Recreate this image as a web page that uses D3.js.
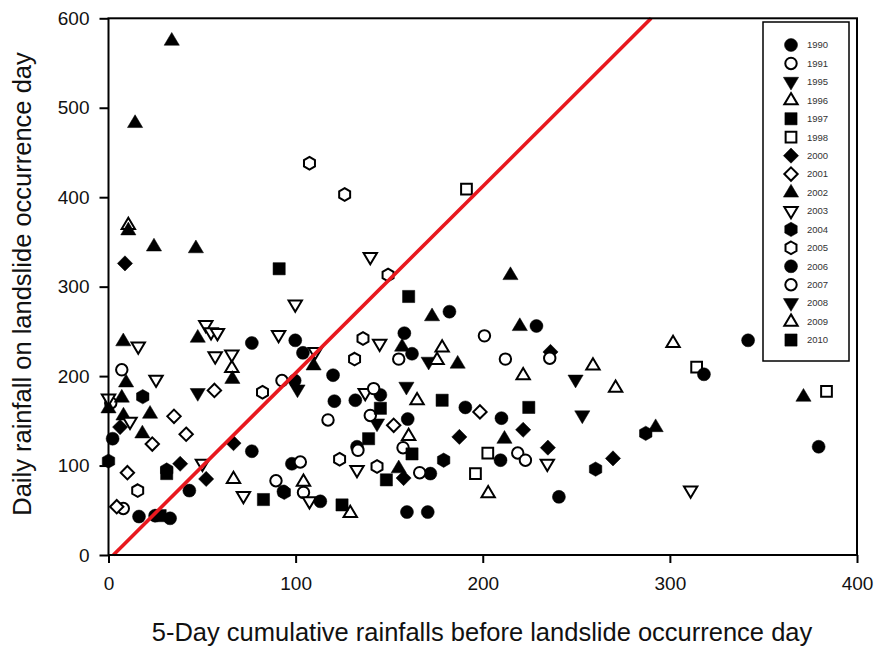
<!DOCTYPE html>
<html>
<head>
<meta charset="utf-8">
<script src="https://cdn.jsdelivr.net/npm/d3@7"></script>
<style>
  html, body { margin: 0; padding: 0; background: #fff; }
  svg { display: block; font-family: "Liberation Sans", Arial, sans-serif; }
</style>
</head>
<body>
<svg id="chart" width="878" height="646"></svg>
<script>
// ---------------- DATA ----------------
const years  = ["1990","1991","1995","1996","1997","1998","2000","2001","2002","2003","2004","2005","2006","2007","2008","2009","2010"];
const shapes = ["circle","circle","down","up","square","square","diamond","diamond","up","down","hexagon","hexagon","circle","circle","down","up","square"];
const filled = [true,false,true,false,true,false,true,false,true,false,true,false,true,false,true,false,true];

const xTicks = [0, 100, 200, 300, 400];
const yTicks = [0, 100, 200, 300, 400, 500, 600];

// [5-day cumulative rainfall, daily rainfall]
const r1990 = [[76.6,237],[99.8,240],[99.5,195],[2.2,130],[76.6,116],[43.2,72],[98,102],[16.3,43],[24.9,44],[32.9,41],[103.9,226],[120,201]];
const r1991 = [[7.1,207],[92.7,195],[1.2,170],[89.5,83],[102.5,104],[7.9,52],[104.2,70],[117.3,151]];
const r1995 = [[47.7,181],[101,185],[143.5,147]];
const r1996 = [[10.6,369],[65.9,209],[66.8,85],[104.2,82],[129.2,47],[160.4,133]];
const r1997 = [[91.2,320],[31.1,91],[82.8,62],[27.6,44],[139,130]];
const r1998 = [[191.3,409],[196.1,91],[202.7,114],[314.3,210],[383.7,183]];
const r2000 = [[8.8,326],[6.2,143],[66.8,125],[38.3,102],[52.2,85],[187.5,132],[157.7,86],[236.2,227],[221.6,140],[234.8,120],[269.6,108]];
const r2001 = [[56.6,184],[35,155],[41.5,135],[23.4,124],[10.1,92],[4.4,54],[198.5,160],[152.4,145]];
const r2002 = [[33.8,575],[14.2,483],[10.6,363],[24.3,345],[46.7,343],[7.9,239],[47.7,243],[66.2,197],[9.4,193],[0,164],[7.1,176],[22.2,158],[8,156],[18.1,136],[109.6,212],[156.9,233],[172.9,267],[186.6,214],[155.1,97],[214.8,313],[219.8,256],[211.6,130],[292.4,143],[371.4,177]];
const r2003 = [[15.9,233],[52,257],[54.8,249],[58.2,248],[90.9,246],[57,222],[65.9,224],[25.4,196],[0,175],[11.5,149],[50.2,102],[72.1,66],[99.8,280],[139.9,333],[144.9,236],[110.5,227],[137.2,181],[132.8,95],[107.4,60],[234.5,102],[311.1,72]];
const r2004 = [[18.3,177],[0,105],[31.1,95],[93.9,70],[179.1,106],[260.3,96],[287.1,136]];
const r2005 = [[107.4,438],[126.2,403],[149.4,313],[136,242],[131.5,219],[82.3,182],[15.6,72],[123.5,107],[143.5,99]];
const r2006 = [[158.1,248],[162.2,225],[182.2,272],[120.7,172],[131.9,173],[145.3,179],[190.7,165],[159.9,152],[132.8,121],[172,91],[93.5,71],[113.2,60],[159.5,48],[170.6,48],[228.7,256],[210,153],[209.5,106],[240.7,65],[341.8,240],[318.2,202],[379.5,121]];
const r2007 = [[155.1,219],[141.7,186],[139.9,156],[133.3,117],[157.4,120],[166.3,92],[200.9,245],[212.1,219],[235.8,220],[218.7,114],[222.8,106]];
const r2008 = [[171.1,216],[159.2,188],[249.6,196],[253.2,156]];
const r2009 = [[178.3,232],[175.6,218],[164.9,173],[221.6,201],[258.9,212],[271,187],[202.9,69],[301.7,237]];
const r2010 = [[160.4,289],[145.3,164],[178.3,173],[162.2,113],[148.5,84],[124.8,56],[224.6,165]];

// threshold line end points
const lineX = [2.6, 290];
const lineY = [0, 600];

const seriesData = [r1990,r1991,r1995,r1996,r1997,r1998,r2000,r2001,r2002,r2003,r2004,r2005,r2006,r2007,r2008,r2009,r2010];

// ---------------- DRAWING ----------------
const svg = d3.select("#chart");
const x = d3.scaleLinear().domain([0, 400]).range([108.5, 857]);
const y = d3.scaleLinear().domain([0, 600]).range([555, 18.3]);

function shapePath(type, open) {
  const k = open ? 0.88 : 1;
  const p = d3.path();
  if (type === "circle") {
    const r = 6.5 * k;
    p.arc(0, 0, r, 0, 2 * Math.PI);
  } else if (type === "square") {
    const h = 6.1 * k;
    p.rect(-h, -h, 2 * h, 2 * h);
  } else if (type === "diamond") {
    const h = 7.6 * k;
    p.moveTo(0, -h); p.lineTo(h, 0); p.lineTo(0, h); p.lineTo(-h, 0); p.closePath();
  } else if (type === "up") {
    p.moveTo(0, -8.2 * k); p.lineTo(7.6 * k, 4.6 * k); p.lineTo(-7.6 * k, 4.6 * k); p.closePath();
  } else if (type === "down") {
    p.moveTo(0, 8.2 * k); p.lineTo(7.6 * k, -4.6 * k); p.lineTo(-7.6 * k, -4.6 * k); p.closePath();
  } else if (type === "hexagon") {
    const r = 7.2 * k;
    for (let i = 0; i < 6; i++) {
      const a = -Math.PI / 2 + i * Math.PI / 3;
      const px = r * Math.cos(a), py = r * Math.sin(a);
      if (i === 0) p.moveTo(px, py); else p.lineTo(px, py);
    }
    p.closePath();
  }
  return p.toString();
}

// points
const gPts = svg.append("g");
seriesData.forEach((data, i) => {
  const open = !filled[i];
  gPts.append("g")
    .selectAll("path")
    .data(data)
    .join("path")
    .attr("d", shapePath(shapes[i], open))
    .attr("transform", d => `translate(${x(d[0])},${y(d[1])})`)
    .attr("fill", open ? "#fff" : "#000")
    .attr("stroke", "#000")
    .attr("stroke-width", open ? 2 : 0.5);
});

// red threshold line
svg.append("line")
  .attr("x1", x(lineX[0])).attr("y1", y(lineY[0]))
  .attr("x2", x(lineX[1])).attr("y2", y(lineY[1]))
  .attr("stroke", "#e8181e")
  .attr("stroke-width", 3.6)
  .attr("stroke-linecap", "butt");

// frame
svg.append("rect")
  .attr("x", x(0)).attr("y", y(600))
  .attr("width", x(400) - x(0)).attr("height", y(0) - y(600))
  .attr("fill", "none").attr("stroke", "#000").attr("stroke-width", 2);

// axes
const xAxis = svg.append("g")
  .attr("transform", `translate(0,${y(0)})`)
  .call(d3.axisBottom(x).tickValues(xTicks).tickSize(8).tickSizeOuter(0).tickPadding(14));
const yAxis = svg.append("g")
  .attr("transform", `translate(${x(0)},0)`)
  .call(d3.axisLeft(y).tickValues(yTicks).tickSize(9).tickSizeOuter(0).tickPadding(10));
[xAxis, yAxis].forEach(g => {
  g.select(".domain").remove();
  g.selectAll(".tick line").attr("stroke", "#000").attr("stroke-width", 2);
  g.selectAll(".tick text")
    .attr("fill", "#111")
    .style("font-size", "19px")
    .style("font-family", "'Liberation Sans', Arial, sans-serif");
});

// axis titles
svg.append("text")
  .attr("x", 482).attr("y", 641)
  .attr("text-anchor", "middle")
  .style("font-size", "25.5px")
  .attr("fill", "#111")
  .text("5-Day cumulative rainfalls before landslide occurrence day");

svg.append("text")
  .attr("transform", "translate(31,284) rotate(-90)")
  .attr("text-anchor", "middle")
  .style("font-size", "25.5px")
  .attr("fill", "#111")
  .text("Daily rainfall on landslide occurrence day");

// legend
const leg = svg.append("g");
leg.append("rect")
  .attr("x", 763).attr("y", 22).attr("width", 86).attr("height", 339)
  .attr("fill", "#fff").attr("stroke", "#000").attr("stroke-width", 1.5);
years.forEach((yr, i) => {
  const cy = 45 + i * 18.44;
  const open = !filled[i];
  leg.append("path")
    .attr("d", shapePath(shapes[i], open))
    .attr("transform", `translate(791,${cy})`)
    .attr("fill", open ? "#fff" : "#000")
    .attr("stroke", "#000")
    .attr("stroke-width", open ? 2 : 0.5);
  leg.append("text")
    .attr("x", 807).attr("y", cy)
    .attr("dy", "0.35em")
    .style("font-size", "9.5px")
    .attr("fill", "#333")
    .text(yr);
});
</script>
</body>
</html>
